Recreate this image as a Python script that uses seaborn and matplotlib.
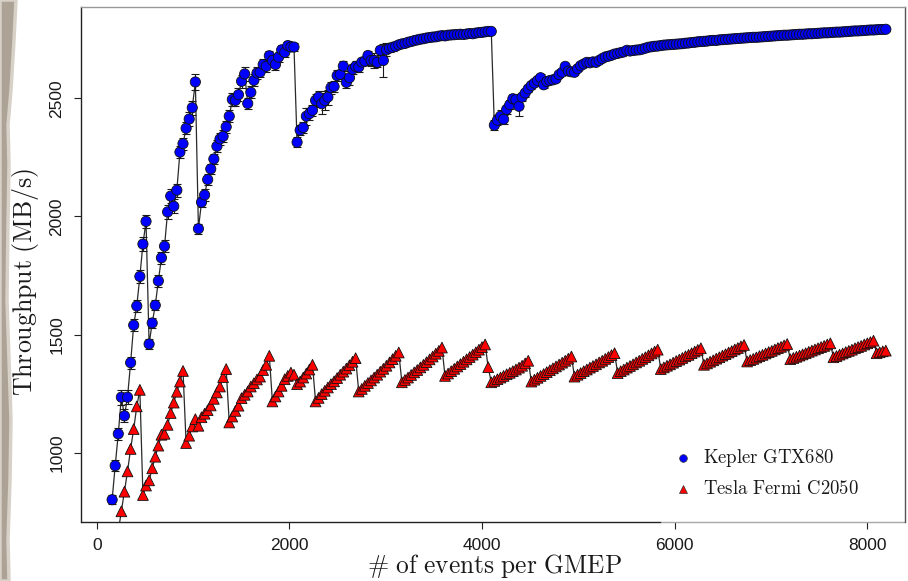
import numpy as np
import pandas as pd
import matplotlib
matplotlib.use("Agg")
import matplotlib.pyplot as plt
from matplotlib.lines import Line2D
from matplotlib.patches import Polygon
import seaborn as sns

# GMEP sizes are sampled every 32 events
step = 32
kepler_start = 160
fermi_start = 224

# Kepler GTX680 throughput (MB/s), 8 samples per row
kepler_throughput = [
    801, 945, 1080, 1235, 1156, 1235, 1381, 1540,      # 160
    1621, 1746, 1883, 1979, 1460, 1549, 1624, 1727,    # 416
    1825, 1874, 2019, 2086, 2043, 2111, 2272, 2308,    # 672
    2373, 2412, 2460, 2569, 1948, 2060, 2091, 2156,    # 928
    2201, 2243, 2297, 2328, 2339, 2379, 2424, 2495,    # 1184
    2491, 2515, 2572, 2603, 2478, 2525, 2576, 2607,    # 1440
    2610, 2643, 2635, 2680, 2660, 2643, 2674, 2705,    # 1696
    2694, 2723, 2717, 2717, 2314, 2365, 2376, 2424,    # 1952
    2435, 2449, 2491, 2505, 2477, 2491, 2505, 2545,    # 2208
    2550, 2596, 2601, 2636, 2567, 2587, 2623, 2635,    # 2464
    2632, 2653, 2657, 2681, 2660, 2660, 2652, 2703,    # 2720
    2660, 2705, 2712, 2716, 2720, 2726, 2730, 2732,    # 2976
    2737, 2740, 2744, 2747, 2750, 2752, 2755, 2757,    # 3232
    2759, 2760, 2763, 2765, 2764, 2767, 2768, 2769,    # 3488
    2770, 2771, 2770, 2772, 2774, 2773, 2776, 2778,    # 3744
    2779, 2781, 2783, 2783, 2386, 2407, 2424, 2411,    # 4000
    2453, 2473, 2498, 2494, 2466, 2505, 2522, 2540,    # 4256
    2554, 2564, 2575, 2587, 2557, 2571, 2575, 2578,    # 4512
    2582, 2600, 2610, 2635, 2615, 2612, 2610, 2625,    # 4768
    2638, 2645, 2652, 2650, 2654, 2652, 2660, 2668,    # 5024
    2675, 2678, 2682, 2687, 2690, 2693, 2696, 2703,    # 5280
    2700, 2702, 2704, 2705, 2708, 2712, 2716, 2718,    # 5536
    2720, 2721, 2723, 2725, 2726, 2727, 2728, 2729,    # 5792
    2730, 2731, 2733, 2734, 2736, 2737, 2739, 2740,    # 6048
    2741, 2742, 2744, 2745, 2745, 2747, 2748, 2749,    # 6304
    2750, 2751, 2752, 2753, 2754, 2755, 2756, 2757,    # 6560
    2758, 2758, 2759, 2760, 2761, 2762, 2763, 2764,    # 6816
    2765, 2766, 2767, 2767, 2768, 2769, 2770, 2771,    # 7072
    2771, 2772, 2773, 2773, 2774, 2775, 2776, 2777,    # 7328
    2777, 2778, 2779, 2780, 2780, 2781, 2782, 2783,    # 7584
    2784, 2785, 2785, 2786, 2787, 2788, 2789, 2789,    # 7840
    2790, 2791, 2791, 2792,                            # 8096
]

# half-width of the Kepler error bars (MB/s)
kepler_err = [
    20, 24, 25, 32, 28, 30, 26, 25,
    25, 26, 28, 28, 20, 20, 22, 24,
    25, 26, 28, 28, 30, 28, 25, 25,
    25, 28, 30, 32, 22, 22, 25, 25,
    22, 22, 25, 25, 25, 25, 26, 28,
    25, 28, 28, 30, 22, 25, 25, 25,
    22, 25, 25, 22, 28, 25, 22, 20,
    20, 20, 18, 15, 20, 22, 25, 35,
    25, 22, 28, 25, 45, 40, 32, 25,
    25, 25, 20, 22, 25, 30, 20, 22,
    20, 18, 18, 20, 25, 30, 18, 18,
    70, 28, 15, 14, 12, 12, 10, 10,
    10, 10, 9, 9, 9, 8, 8, 8,
    8, 8, 8, 8, 8, 8, 8, 8,
    8, 8, 8, 8, 8, 8, 8, 8,
    8, 8, 8, 8, 22, 22, 25, 18,
    18, 20, 22, 18, 40, 18, 16, 15,
    15, 12, 20, 15, 15, 12, 12, 12,
    10, 10, 10, 12, 10, 10, 10, 10,
    8, 8, 8, 8, 8, 8, 8, 8,
    8, 8, 8, 8, 8, 8, 8, 8,
    8, 8, 8, 8, 8, 8, 8, 8,
    7, 7, 7, 7, 7, 7, 7, 7,
    7, 7, 7, 7, 7, 7, 7, 7,
    6, 6, 6, 6, 6, 6, 6, 6,
    6, 6, 6, 6, 6, 6, 6, 6,
    6, 6, 6, 6, 6, 6, 6, 6,
    6, 6, 6, 6, 6, 6, 6, 6,
    6, 6, 6, 6, 6, 6, 6, 6,
    6, 6, 6, 6, 6, 6, 6, 6,
    6, 6, 6, 6, 6, 6, 6, 6,
    6, 6, 6, 6,
]

# Tesla Fermi C2050 throughput (MB/s); one row per 448-event cycle
fermi_throughput = [
    668, 752, 835, 921, 1016, 1100, 1196, 1266,                                      # 224
    821, 861, 883, 934, 983, 1030, 1076, 1080, 1118, 1168, 1212, 1258, 1301, 1346,   # 480
    1041, 1072, 1111, 1142, 1114, 1150, 1165, 1180, 1200, 1228, 1255, 1280, 1320, 1354,  # 928
    1128, 1153, 1177, 1199, 1231, 1245, 1259, 1280, 1294, 1310, 1322, 1350, 1372, 1410,  # 1376
    1217, 1238, 1259, 1283, 1311, 1325, 1339, 1330, 1290, 1301, 1318, 1335, 1352, 1372,  # 1824
    1217, 1232, 1248, 1262, 1276, 1290, 1302, 1316, 1330, 1343, 1356, 1370, 1385, 1400,  # 2272
    1259, 1270, 1283, 1295, 1306, 1318, 1330, 1343, 1355, 1368, 1382, 1396, 1410, 1424,  # 2720
    1298, 1308, 1318, 1329, 1340, 1350, 1361, 1372, 1383, 1395, 1407, 1419, 1431, 1445,  # 3168
    1325, 1335, 1345, 1355, 1365, 1375, 1385, 1395, 1405, 1415, 1425, 1436, 1447, 1458,  # 3616
    1362, 1298, 1304, 1311, 1318, 1325, 1332, 1338, 1345, 1352, 1360, 1368, 1378, 1389,  # 4064
    1301, 1309, 1317, 1325, 1333, 1341, 1349, 1357, 1365, 1373, 1381, 1389, 1398, 1407,  # 4512
    1322, 1330, 1337, 1345, 1352, 1360, 1367, 1374, 1382, 1389, 1397, 1405, 1413, 1421,  # 4960
    1337, 1345, 1352, 1360, 1367, 1374, 1382, 1389, 1397, 1404, 1412, 1420, 1428, 1436,  # 5408
    1354, 1361, 1368, 1374, 1381, 1388, 1394, 1401, 1408, 1414, 1421, 1428, 1435, 1442,  # 5856
    1372, 1378, 1385, 1391, 1398, 1404, 1411, 1417, 1424, 1430, 1437, 1443, 1450, 1456,  # 6304
    1386, 1392, 1397, 1403, 1409, 1414, 1420, 1426, 1431, 1437, 1443, 1448, 1454, 1460,  # 6752
    1396, 1401, 1406, 1411, 1416, 1421, 1427, 1432, 1437, 1442, 1447, 1452, 1458, 1463,  # 7200
    1404, 1409, 1415, 1420, 1426, 1431, 1436, 1442, 1447, 1452, 1458, 1463, 1468, 1474,  # 7648
    1421, 1425, 1429, 1432,                                                          # 8096
]

devices = ["Kepler GTX680", "Tesla Fermi C2050"]
x_ticks = [0, 2000, 4000, 6000, 8000]
y_ticks = [1000, 1500, 2000, 2500]

kepler_events = kepler_start + step * np.arange(len(kepler_throughput))
fermi_events = fermi_start + step * np.arange(len(fermi_throughput))

df = pd.concat([
    pd.DataFrame({"events": kepler_events, "throughput": kepler_throughput,
                  "device": devices[0]}),
    pd.DataFrame({"events": fermi_events, "throughput": fermi_throughput,
                  "device": devices[1]}),
], ignore_index=True)

sns.set_theme(style="ticks")
plt.rcParams["font.family"] = ["Liberation Sans", "DejaVu Sans"]
plt.rcParams["mathtext.fontset"] = "cm"

W, H = 908, 581
fig = plt.figure(figsize=(W / 100, H / 100), dpi=100)
fig.patch.set_facecolor("white")

# torn paper edge along the left margin
edge = [(0, 0), (16, 0), (14, 40), (11, 90), (8, 125), (9, 165), (8, 225), (7, 300),
        (9, 360), (11, 420), (10, 480), (8, 540), (9, 581), (0, 581)]
fig.add_artist(Polygon([(x / W, 1 - y / H) for x, y in edge], closed=True,
                       transform=fig.transFigure, facecolor="#aca296",
                       edgecolor="#d8d1c8", linewidth=2.5))

ax = fig.add_axes([81 / W, 1 - 522.3 / H, (905 - 81) / W, (522.3 - 7.3) / H])

# connecting lines
sns.lineplot(data=df, x="events", y="throughput", units="device", estimator=None,
             sort=False, color="#2a2a2a", linewidth=0.9, ax=ax, zorder=1)

# Kepler measurement spread
ax.errorbar(kepler_events, kepler_throughput, yerr=kepler_err, fmt="none",
            ecolor="#1a1a1a", elinewidth=0.8, capsize=3.2, capthick=0.8, zorder=2)

# markers
sns.scatterplot(data=df, x="events", y="throughput", hue="device", style="device",
                size="device",
                palette={devices[0]: "#0000ff", devices[1]: "#ff0000"},
                markers={devices[0]: "o", devices[1]: "^"},
                sizes={devices[0]: 54, devices[1]: 60},
                edgecolor="#111111", linewidth=0.6, legend=False, ax=ax, zorder=3)

ax.set_xlim(-163, 8391)
ax.set_ylim(705.5, 2885)
ax.set_xticks(x_ticks)
ax.set_yticks(y_ticks)
ax.set(xlabel="", ylabel="")
ax.tick_params(axis="both", direction="out", length=5, width=0.8, color="#222222",
               labelsize=12.5, labelcolor="#1a1a1a")
ax.tick_params(axis="x", pad=6)
ax.tick_params(axis="y", pad=7)
for lab in ax.get_yticklabels():
    lab.set_rotation(90)
    lab.set_va("center")

for side, col in [("left", "#222222"), ("top", "#9a9a9a"), ("right", "#555555")]:
    ax.spines[side].set_color(col)
    ax.spines[side].set_linewidth(1.0)
ax.spines["bottom"].set_visible(False)
ax.add_line(Line2D([0, 0.704], [0, 0], transform=ax.transAxes, color="#222222",
                   linewidth=1.0, clip_on=False))
ax.add_line(Line2D([0.704, 1], [0, 0], transform=ax.transAxes, color="#a8a8a8",
                   linewidth=1.0, clip_on=False))

# axis titles
fig.text(495 / W, 1 - 573 / H, r"$\mathrm{\#\ of\ events\ per\ GMEP}$",
         ha="center", va="baseline", fontsize=18.3, color="#1a1a1a")
fig.text(26 / W, 1 - 282 / H, r"$\mathrm{Throughput\ (MB/s)}$", rotation=90,
         ha="center", va="center", fontsize=18.6, color="#1a1a1a")

# legend
legend_rows = [(devices[0], "o", "#0000ff", 457.7), (devices[1], "^", "#ff0000", 489.3)]
for name, mk, col, ypx in legend_rows:
    fig.add_artist(Line2D([683.3 / W], [1 - ypx / H], marker=mk, linestyle="",
                          markersize=5.5, markerfacecolor=col, markeredgecolor="#333333",
                          markeredgewidth=0.5, transform=fig.transFigure))
    fig.text(703 / W, 1 - ypx / H, r"$\mathrm{" + name.replace(" ", r"\ ") + "}$",
             ha="left", va="center", fontsize=13.5, color="#1a1a1a")

fig.savefig("out.png", dpi=100, facecolor="white")
